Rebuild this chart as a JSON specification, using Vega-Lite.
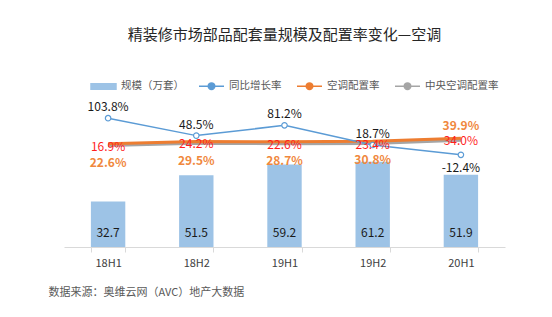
{
  "$schema": "https://vega.github.io/schema/vega-lite/v6.json",
  "width": 441,
  "height": 167,
  "autosize": {"type": "none"},
  "padding": {"left": 64, "top": 80, "right": 47, "bottom": 70},
  "background": "white",
  "title": {
    "text": "精装修市场部品配套量规模及配置率变化—空调",
    "fontSize": 15,
    "fontWeight": "normal",
    "color": "#262626",
    "anchor": "middle",
    "offset": 30
  },
  "data": {
    "values": [
      {"period": "18H1", "scale": 32.7, "growth": 103.8, "ac": 22.6, "cac": 16.9},
      {"period": "18H2", "scale": 51.5, "growth": 48.5, "ac": 29.5, "cac": 24.2},
      {"period": "19H1", "scale": 59.2, "growth": 81.2, "ac": 28.7, "cac": 22.6},
      {"period": "19H2", "scale": 61.2, "growth": 18.7, "ac": 30.8, "cac": 23.4},
      {"period": "20H1", "scale": 51.9, "growth": -12.4, "ac": 39.9, "cac": 34.0}
    ]
  },
  "encoding": {
    "x": {
      "field": "period",
      "type": "nominal",
      "sort": null,
      "scale": {"paddingInner": 0.61, "paddingOuter": 0.305},
      "axis": {
        "title": "数据来源：奥维云网（AVC）地产大数据",
        "titleX": -16,
        "titleY": 45,
        "titleAlign": "left",
        "titleAnchor": null,
        "titleBaseline": "middle",
        "titleFontSize": 11,
        "titleFontWeight": "normal",
        "titleColor": "#595959",
        "labelAngle": 0,
        "labelFontSize": 11,
        "labelColor": "#404040",
        "labelBaseline": "middle",
        "labelPadding": 11,
        "tickSize": 5,
        "tickBand": "extent",
        "tickColor": "#D9D9D9",
        "domainColor": "#D9D9D9",
        "grid": false
      }
    }
  },
  "layer": [
    {
      "mark": {"type": "bar"},
      "encoding": {
        "y": {"field": "scale", "type": "quantitative", "scale": {"domain": [0, 120]}, "axis": null},
        "color": {
          "datum": "规模（万套）",
          "scale": {
            "domain": ["规模（万套）", "同比增长率", "空调配置率", "中央空调配置率"],
            "range": ["#9DC3E6", "#5B9BD5", "#ED7D31", "#A5A5A5"]
          },
          "legend": {
            "orient": "none",
            "legendX": 26,
            "legendY": -7.5,
            "direction": "horizontal",
            "title": null,
            "padding": 0,
            "labelFontSize": 10.5,
            "labelColor": "#595959",
            "labelOffset": 4,
            "columnPadding": 12,
            "symbolSize": 625,
            "encode": {
              "symbols": {
                "update": {
                  "shape": {"signal": "datum.value === '规模（万套）' ? 'M-1,-0.22H1V0.22H-1Z' : 'M-1,0H-0.26M0.26,0H1M-0.26,0A0.26,0.26 0 1,1 0.26,0A0.26,0.26 0 1,1 -0.26,0'"},
                  "fill": {"signal": "datum.value === '规模（万套）' ? '#9DC3E6' : (datum.value === '中央空调配置率' ? '#A5A5A5' : '#ffffff')"},
                  "stroke": {"signal": "datum.value === '规模（万套）' ? '#9DC3E6' : (datum.value === '同比增长率' ? '#5B9BD5' : (datum.value === '空调配置率' ? '#ED7D31' : '#A5A5A5'))"},
                  "strokeWidth": {"value": 1.5},
                  "opacity": {"value": 1}
                }
              }
            }
          }
        }
      }
    },
    {
      "mark": {"type": "text", "dy": -14, "fontSize": 12, "color": "#1a1a1a", "baseline": "middle"},
      "encoding": {
        "y": {"datum": 0, "type": "quantitative", "scale": {"domain": [0, 120]}, "axis": null},
        "text": {"field": "scale", "type": "quantitative", "format": ".1f"}
      }
    },
    {
      "mark": {"type": "line", "strokeWidth": 3},
      "encoding": {
        "y": {"field": "cac", "type": "quantitative", "scale": {"domain": [-305, 225]}, "axis": null},
        "color": {"datum": "中央空调配置率"}
      }
    },
    {
      "mark": {"type": "line", "strokeWidth": 3},
      "encoding": {
        "y": {"field": "ac", "type": "quantitative", "scale": {"domain": [-305, 225]}, "axis": null},
        "color": {"datum": "空调配置率"}
      }
    },
    {
      "mark": {"type": "line", "strokeWidth": 1.5, "point": {"filled": false, "fill": "white", "size": 30, "strokeWidth": 1.2}},
      "encoding": {
        "y": {"field": "growth", "type": "quantitative", "scale": {"domain": [-305, 225]}, "axis": null},
        "color": {"datum": "同比增长率"}
      }
    },
    {
      "transform": [{"filter": "datum.period !== '20H1'"}],
      "mark": {"type": "text", "dy": -11, "fontSize": 12, "color": "#1a1a1a", "baseline": "middle", "text": {"expr": "replace(format(datum.growth, '.1f'), '\u2212', '-') + '%'"}},
      "encoding": {
        "y": {"field": "growth", "type": "quantitative", "scale": {"domain": [-305, 225]}, "axis": null}
      }
    },
    {
      "transform": [{"filter": "datum.period === '20H1'"}],
      "mark": {"type": "text", "dy": 13, "fontSize": 12, "color": "#1a1a1a", "baseline": "middle", "text": {"expr": "replace(format(datum.growth, '.1f'), '\u2212', '-') + '%'"}},
      "encoding": {
        "y": {"field": "growth", "type": "quantitative", "scale": {"domain": [-305, 225]}, "axis": null}
      }
    },
    {
      "transform": [{"filter": "datum.period !== '20H1'"}],
      "mark": {"type": "text", "dy": 19, "fontSize": 12, "fontWeight": "bold", "color": "#F0883E", "baseline": "middle", "text": {"expr": "format(datum.ac, '.1f') + '%'"}},
      "encoding": {
        "y": {"field": "ac", "type": "quantitative", "scale": {"domain": [-305, 225]}, "axis": null}
      }
    },
    {
      "transform": [{"filter": "datum.period === '20H1'"}],
      "mark": {"type": "text", "dy": -12, "fontSize": 12, "fontWeight": "bold", "color": "#F0883E", "baseline": "middle", "text": {"expr": "format(datum.ac, '.1f') + '%'"}},
      "encoding": {
        "y": {"field": "ac", "type": "quantitative", "scale": {"domain": [-305, 225]}, "axis": null}
      }
    },
    {
      "mark": {"type": "text", "dy": 1, "fontSize": 12, "color": "#FF1F1F", "baseline": "middle", "text": {"expr": "format(datum.cac, '.1f') + '%'"}},
      "encoding": {
        "y": {"field": "cac", "type": "quantitative", "scale": {"domain": [-305, 225]}, "axis": null}
      }
    }
  ],
  "resolve": {"scale": {"y": "independent"}},
  "config": {
    "view": {"stroke": null},
    "font": "Noto Sans CJK SC",
    "title": {"font": "Noto Sans CJK SC"},
    "axis": {"labelFont": "Noto Sans CJK SC", "titleFont": "Noto Sans CJK SC"},
    "legend": {"labelFont": "Noto Sans CJK SC"},
    "text": {"font": "Noto Sans CJK SC"}
  }
}
